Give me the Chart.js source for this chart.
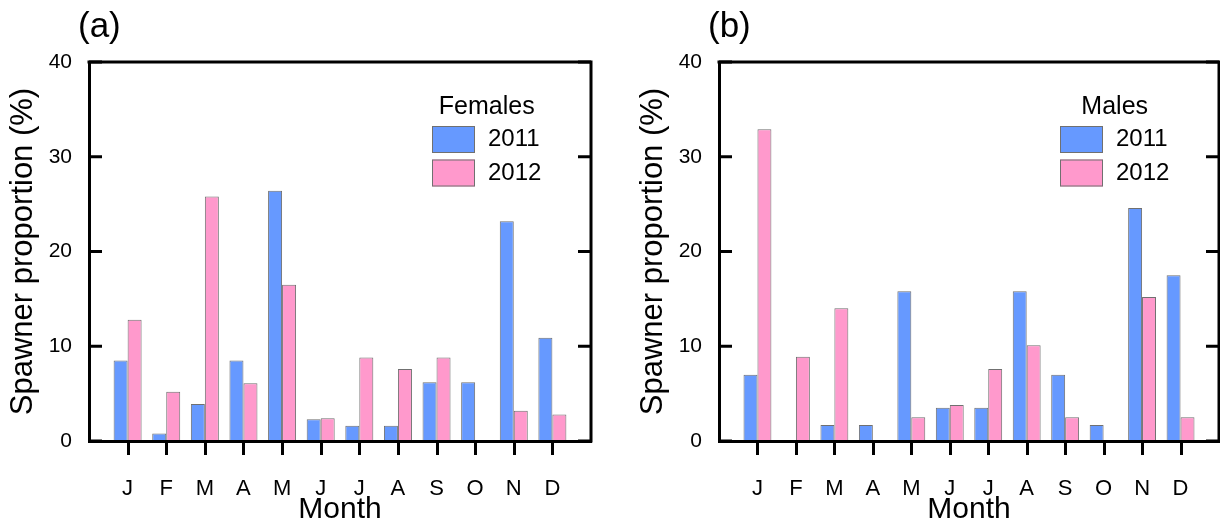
<!DOCTYPE html>
<html>
<head>
<meta charset="utf-8">
<script src="https://cdn.jsdelivr.net/npm/chart.js@4.4.1/dist/chart.umd.min.js"></script>
<style>
  html, body { margin: 0; padding: 0; background: #fff; }
  #wrap { position: relative; width: 1220px; height: 525px; }
  canvas { position: absolute; top: 0; }
</style>
</head>
<body>
<div id="wrap">
  <canvas id="chartA" width="610" height="525" style="left:0"></canvas>
  <canvas id="chartB" width="610" height="525" style="left:610px"></canvas>
</div>
<script>
const months = ["J", "F", "M", "A", "M", "J", "J", "A", "S", "O", "N", "D"];
const years = ["2011", "2012"];
const females2011 = [8.5, 0.8, 3.9, 8.5, 26.4, 2.3, 1.6, 1.6, 6.2, 6.2, 23.2, 10.9];
const females2012 = [12.8, 5.2, 25.8, 6.1, 16.5, 2.4, 8.8, 7.6, 8.8, 0, 3.2, 2.8];
const males2011 = [7.0, 0, 1.7, 1.7, 15.8, 3.5, 3.5, 15.8, 7.0, 1.7, 24.6, 17.5];
const males2012 = [32.9, 8.9, 14.0, 0, 2.5, 3.8, 7.6, 10.1, 2.5, 0, 15.2, 2.5];
const yTicks = [0, 10, 20, 30, 40];

const FONT = "'Liberation Sans', Arial, sans-serif";
const blue = "#6699ff";
const pink = "#ff99cc";
const edge = "#707070";

// outward tick marks under each month
function drawMonthTicks(chart) {
  const ctx = chart.ctx;
  const a = chart.chartArea;
  const x = chart.scales.x;
  const yb = Math.round(a.bottom) + 2;
  ctx.save();
  ctx.fillStyle = "#000";
  months.forEach((m, i) => {
    const px = Math.round(x.getPixelForValue(i));
    ctx.fillRect(px - 1, yb, 3, 12);
  });
  ctx.restore();
}

// top/right frame, inward y ticks and the panel letter
const framePlugin = {
  id: "frame",
  afterDatasetsDraw(chart) {
    drawMonthTicks(chart);
  },
  afterDraw(chart, args, opts) {
    const ctx = chart.ctx;
    const a = chart.chartArea;
    const y = chart.scales.y;
    ctx.save();
    ctx.strokeStyle = "#000";
    ctx.lineWidth = 3;
    ctx.beginPath();
    ctx.moveTo(a.left - 1.5, a.top);
    ctx.lineTo(a.right, a.top);
    ctx.lineTo(a.right, a.bottom + 1.5);
    ctx.stroke();

    ctx.beginPath();
    yTicks.forEach((v) => {
      const py = y.getPixelForValue(v);
      ctx.moveTo(a.left, py);
      ctx.lineTo(a.left + 13, py);
      ctx.moveTo(a.right, py);
      ctx.lineTo(a.right - 13, py);
    });
    ctx.stroke();

    ctx.fillStyle = "#000";
    ctx.font = "35px " + FONT;
    ctx.textAlign = "left";
    ctx.textBaseline = "middle";
    ctx.fillText(opts.label, a.left - 11, 27);
    ctx.restore();

    drawMonthTicks(chart);
  },
};

// legend box with a title, placed in the upper right of the plot
const legendPlugin = {
  id: "boxLegend",
  afterDraw(chart, args, opts) {
    const ctx = chart.ctx;
    const a = chart.chartArea;
    const sets = chart.data.datasets;
    const x0 = a.right - 159;
    ctx.save();
    ctx.font = "24px " + FONT;
    let textW = 0;
    sets.forEach((d) => { textW = Math.max(textW, ctx.measureText(d.label).width); });
    const totalW = 43 + 13 + textW;

    ctx.fillStyle = "#000";
    ctx.font = "25px " + FONT;
    ctx.textAlign = "center";
    ctx.textBaseline = "alphabetic";
    ctx.fillText(opts.title, x0 + totalW / 2, 114);

    ctx.font = "24px " + FONT;
    sets.forEach((d, i) => {
      const top = 126 + i * 33.5;
      ctx.fillStyle = d.backgroundColor;
      ctx.fillRect(x0, top, 43, 27);
      ctx.strokeStyle = edge;
      ctx.lineWidth = 1;
      ctx.strokeRect(x0 + 0.5, top + 0.5, 42, 26);
      ctx.fillStyle = "#000";
      ctx.textAlign = "left";
      ctx.textBaseline = "middle";
      ctx.fillText(d.label, x0 + 56, top + 13.5);
    });
    ctx.restore();
  },
};

function makeChart(id, label, title, s2011, s2012, padLeft, padRight) {
  const series = [s2011, s2012];
  const colors = [blue, pink];
  return new Chart(document.getElementById(id), {
    type: "bar",
    data: {
      datasets: years.map((yr, k) => ({
        label: yr,
        data: months.map((m, i) => ({ x: i, y: series[k][i] })),
        backgroundColor: colors[k],
        borderColor: edge,
        borderWidth: 1,
        barPercentage: 1,
        categoryPercentage: 0.725,
      })),
    },
    plugins: [framePlugin, legendPlugin],
    options: {
      responsive: false,
      animation: false,
      devicePixelRatio: 1,
      layout: {
        padding: { left: padLeft, right: padRight, top: 62, bottom: 0 },
      },
      plugins: {
        legend: { display: false },
        tooltip: { enabled: false },
        frame: { label: label },
        boxLegend: { title: title },
      },
      scales: {
        x: {
          type: "linear",
          min: -1,
          max: 12,
          offset: false,
          afterBuildTicks: (axis) => {
            axis.ticks = months.map((m, i) => ({ value: i }));
          },
          afterFit: (s) => { s.height = 84; },
          border: { display: true, color: "#000", width: 3, z: 1 },
          grid: { display: false, offset: false },
          ticks: {
            autoSkip: false,
            maxRotation: 0,
            padding: 27,
            color: "#000",
            font: { family: FONT, size: 22 },
            callback: (v) => months[v],
          },
          title: {
            display: true,
            text: "Month",
            color: "#000",
            font: { family: FONT, size: 30, lineHeight: 1 },
            padding: { top: 0, bottom: 0 },
          },
        },
        y: {
          min: 0,
          max: 40,
          afterBuildTicks: (axis) => {
            axis.ticks = yTicks.map((v) => ({ value: v }));
          },
          afterFit: (s) => { s.width = 81; },
          border: { display: true, color: "#000", width: 3, z: 1 },
          grid: { display: false, drawTicks: false },
          ticks: {
            padding: 17,
            color: "#000",
            font: { family: FONT, size: 21 },
          },
          title: {
            display: true,
            text: "Spawner proportion (%)",
            color: "#000",
            font: { family: FONT, size: 31, lineHeight: 1 },
            padding: { top: 0, bottom: 0 },
          },
        },
      },
    },
  });
}

makeChart("chartA", "(a)", "Females", females2011, females2012, 8, 19);
makeChart("chartB", "(b)", "Males", males2011, males2012, 28, 1);
</script>
</body>
</html>
